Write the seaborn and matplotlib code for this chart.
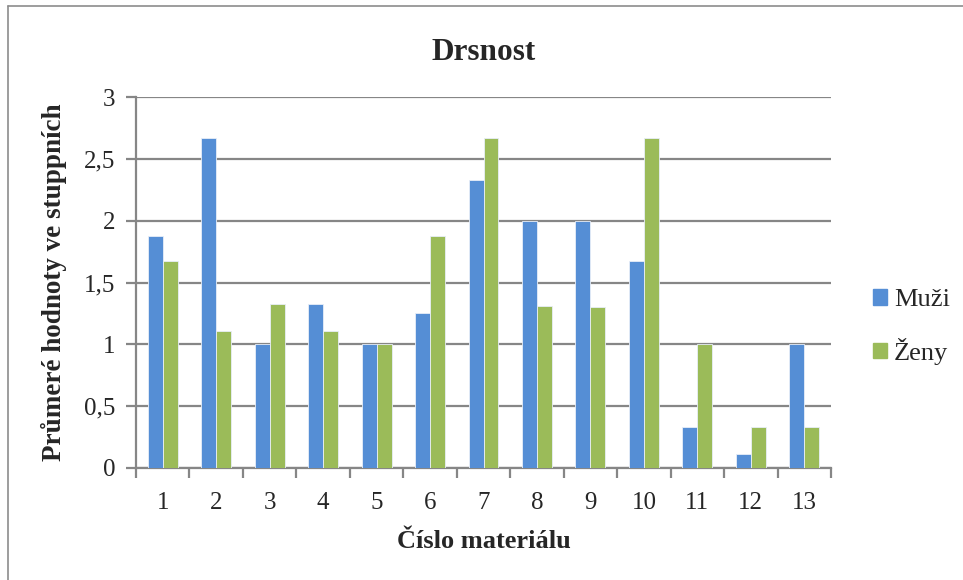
import matplotlib
matplotlib.use("Agg")
import matplotlib.pyplot as plt
from matplotlib.lines import Line2D
from matplotlib.ticker import FixedLocator, FuncFormatter
import seaborn as sns
import pandas as pd
import numpy as np

# Průměrné hodnoty drsnosti pro jednotlivé materiály
materialy = [str(i) for i in range(1, 14)]
muzi = [1.875, 2.67, 1.0, 1.33, 1.0, 1.25, 2.33, 2.0, 2.0, 1.67, 0.33, 0.11, 1.0]
zeny = [1.67, 1.11, 1.33, 1.11, 1.0, 1.875, 2.67, 1.31, 1.30, 2.67, 1.0, 0.33, 0.33]
skupiny = ["Muži", "Ženy"]
barvy = ["#558ED5", "#9BBB59"]
y_ticks = [0, 0.5, 1, 1.5, 2, 2.5, 3]

df = pd.DataFrame({
    "Materiál": materialy * 2,
    "Hodnota": muzi + zeny,
    "Skupina": [skupiny[0]] * len(muzi) + [skupiny[1]] * len(zeny),
})

sns.set_theme(style="white")
plt.rcParams["font.family"] = ["Liberation Serif", "DejaVu Serif"]

fig = plt.figure(figsize=(9.63, 5.8), dpi=100)
ax = fig.add_axes([136 / 963, 1 - 468 / 580, (831 - 136) / 963, (468 - 97) / 580])

sns.barplot(data=df, x="Materiál", y="Hodnota", hue="Skupina",
            palette=barvy, width=0.56, saturation=1, ax=ax,
            edgecolor="#e8eef8", linewidth=0.6, legend=False, zorder=3)

grid_c = "#868686"
ax.set_ylim(0, 3)
ax.set_xlim(-0.5, len(materialy) - 0.5)
ax.set_yticks(y_ticks)
ax.yaxis.set_major_formatter(FuncFormatter(lambda v, _: f"{v:g}".replace(".", ",")))
ax.grid(axis="y", color=grid_c, linewidth=1.6, zorder=0)
ax.set_axisbelow(True)

for s in ["top", "right"]:
    ax.spines[s].set_visible(False)
for s in ["left", "bottom"]:
    ax.spines[s].set_color(grid_c)
    ax.spines[s].set_linewidth(1.6)

ax.tick_params(axis="y", which="major", length=7, width=1.6, color=grid_c,
               labelsize=18, pad=8, left=True, direction="out")
ax.tick_params(axis="x", which="major", length=0, labelsize=18, pad=17)
ax.xaxis.set_minor_locator(FixedLocator(np.arange(-0.5, len(materialy), 1.0)))
ax.tick_params(axis="x", which="minor", length=7, width=1.6, color=grid_c,
               bottom=True, direction="out")

ax.set_xlabel("Číslo materiálu", fontsize=19, fontweight="bold", labelpad=12)
ax.set_ylabel("Průmeré hodnoty ve stuppních", fontsize=19.5, fontweight="bold", labelpad=12)
ax.set_title("Drsnost", fontsize=22.5, fontweight="bold", pad=27)

handles = [plt.Rectangle((0, 0), 1, 1, color=c) for c in barvy]
fig.legend(handles, skupiny, loc="center left", bbox_to_anchor=(849 / 963, 1 - 327 / 580),
           frameon=False, fontsize=19, handlelength=0.55, handleheight=0.55,
           handletextpad=0.25, labelspacing=1.0)

# rámeček grafu
fig.add_artist(Line2D([8 / 963, 8 / 963], [0, 1 - 6 / 580], transform=fig.transFigure,
                      color="#8c8c8c", linewidth=1.2))
fig.add_artist(Line2D([8 / 963, 1], [1 - 6 / 580, 1 - 6 / 580], transform=fig.transFigure,
                      color="#8c8c8c", linewidth=1.2))

fig.savefig("out.png", dpi=100)
